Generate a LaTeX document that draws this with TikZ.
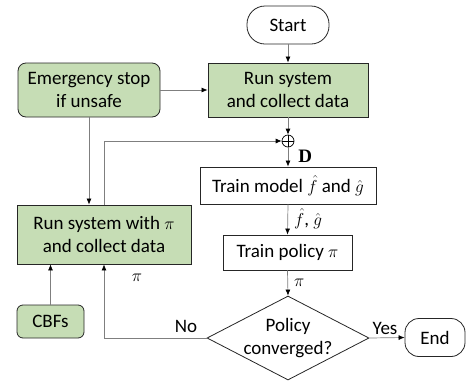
\documentclass[tikz,border=0pt]{standalone}
\usepackage{fontspec}
\setmainfont{Carlito}
\newfontfamily\serifbold{Liberation Serif}
\usetikzlibrary{arrows.meta,shapes.geometric}
\definecolor{boxgreen}{HTML}{C6DDB5}
\definecolor{linegray}{HTML}{7F7F7F}
\begin{document}
\begin{tikzpicture}[x=1pt,y=-1pt,
  every node/.style={font=\fontsize{19}{23}\selectfont},
  gbox/.style={draw=black!85,fill=boxgreen,line width=0.8pt,align=center,inner sep=0pt},
  wbox/.style={draw=black!85,fill=white,line width=0.8pt,align=center,inner sep=0pt},
  conn/.style={draw=linegray,line width=0.7pt,-{Latex[color=black,length=6pt,width=5pt]}},
  lbl/.style={inner sep=0pt}]
\useasboundingbox (0,0) rectangle (466,381);
\node[wbox,rounded corners=18pt,minimum width=82pt,minimum height=38pt] (start) at (288,25) {Start};
\node[gbox,minimum width=160pt,minimum height=54pt] (run) at (288,90) {Run system\\and collect data};
\node[gbox,rounded corners=8pt,minimum width=142pt,minimum height=54pt] (emerg) at (89,90) {Emergency stop\\if unsafe};
\node[draw=black,line width=0.7pt,circle,minimum size=12pt,inner sep=0pt] (plus) at (288,141) {};
\draw[line width=0.7pt] (plus.north) -- (plus.south) (plus.west) -- (plus.east);
\node[wbox,minimum width=176pt,minimum height=37pt] (train) at (288,185.5) {Train model $\hat f$ and $\hat g$};
\node[gbox,minimum width=174pt,minimum height=59pt] (runpi) at (104,234.5) {Run system with $\pi$\\and collect data};
\node[wbox,minimum width=129pt,minimum height=35pt] (policy) at (287.5,252.5) {Train policy $\pi$};
\node[diamond,draw=black!85,line width=0.8pt,fill=white,minimum width=162pt,minimum height=84pt,inner sep=0pt] (conv) at (288,338) {};
\node[align=center] (convtext) at (conv) {Policy\\converged?};
\node[wbox,rounded corners=14pt,minimum width=60pt,minimum height=38pt] (end) at (435,337.5) {End};
\node[gbox,rounded corners=6pt,minimum width=67pt,minimum height=33pt] (cbf) at (50.5,321.5) {CBFs};
% connectors
\draw[conn] (start.south) -- (run.north);
\draw[conn] (emerg.east) -- (run.west);
\draw[conn] (run.south) -- (plus.north);
\draw[conn] (plus.south) -- node[lbl,right,xshift=10pt,yshift=1pt] (dlbl) {\serifbold\bfseries D} (train.north);
\draw[conn] (emerg.south) -- (emerg.south |- runpi.north);
\draw[conn] (runpi.north) |- (plus.west);
\draw[conn] (train.south) -- node[lbl,right,xshift=6pt,yshift=1pt] (fglbl) {$\hat f$, $\hat g$} (policy.north);
\draw[conn] (policy.south) -- node[lbl,right,xshift=6pt] (pilbl) {$\pi$} (conv.north);
\draw[conn] (conv.east) -- node[lbl,above,xshift=-2pt,yshift=3pt] (yeslbl) {Yes} (end.west);
\draw[conn] (conv.west) -| (runpi.south);
\node[lbl] (nolbl) at (186,326) {No};
\node[lbl] (pilbl2) at (137,278) {$\pi$};
\draw[conn] (cbf.north) -- (cbf.north |- runpi.south);
\end{tikzpicture}
\end{document}
